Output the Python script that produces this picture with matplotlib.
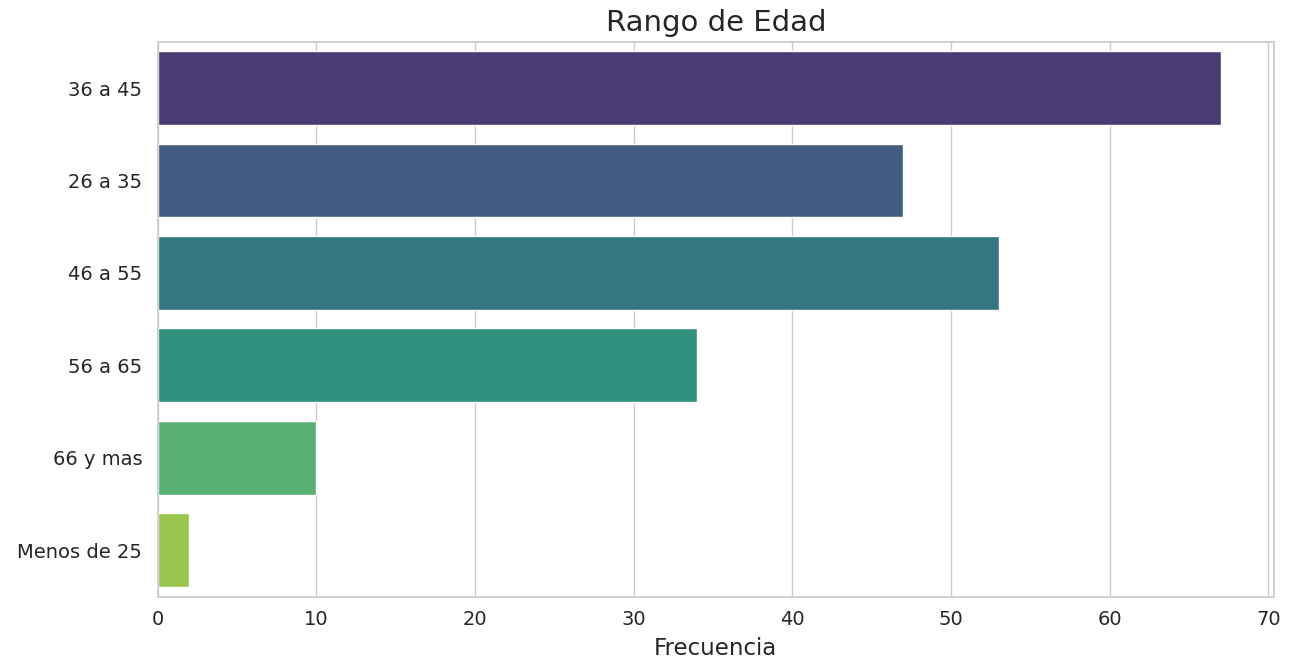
import matplotlib
matplotlib.use("Agg")
import matplotlib.pyplot as plt
import seaborn as sns
import pandas as pd

categories = ["36 a 45", "26 a 35", "46 a 55", "56 a 65", "66 y mas", "Menos de 25"]
values = [67, 47, 53, 34, 10, 2]

sns.set_theme(style="whitegrid")
plt.rcParams['font.family'] = ['DejaVu Sans']

df = pd.DataFrame({"Rango": categories, "Frecuencia": values})
fig, ax = plt.subplots(figsize=(12.92, 6.63), dpi=100)
sns.barplot(data=df, y="Rango", x="Frecuencia", hue="Rango", palette="viridis", legend=False, ax=ax)
ax.set_title("Rango de Edad", fontsize=21, pad=8)
ax.set_xlabel("Frecuencia", fontsize=16.5, labelpad=6)
ax.set_ylabel("")
ax.tick_params(axis="both", labelsize=14)
ax.tick_params(axis="y", pad=5)
ax.set_xticks(range(0, 71, 10))
fig.subplots_adjust(left=0.122, right=0.986, top=0.937, bottom=0.1)
fig.savefig("out.png", dpi=100)
